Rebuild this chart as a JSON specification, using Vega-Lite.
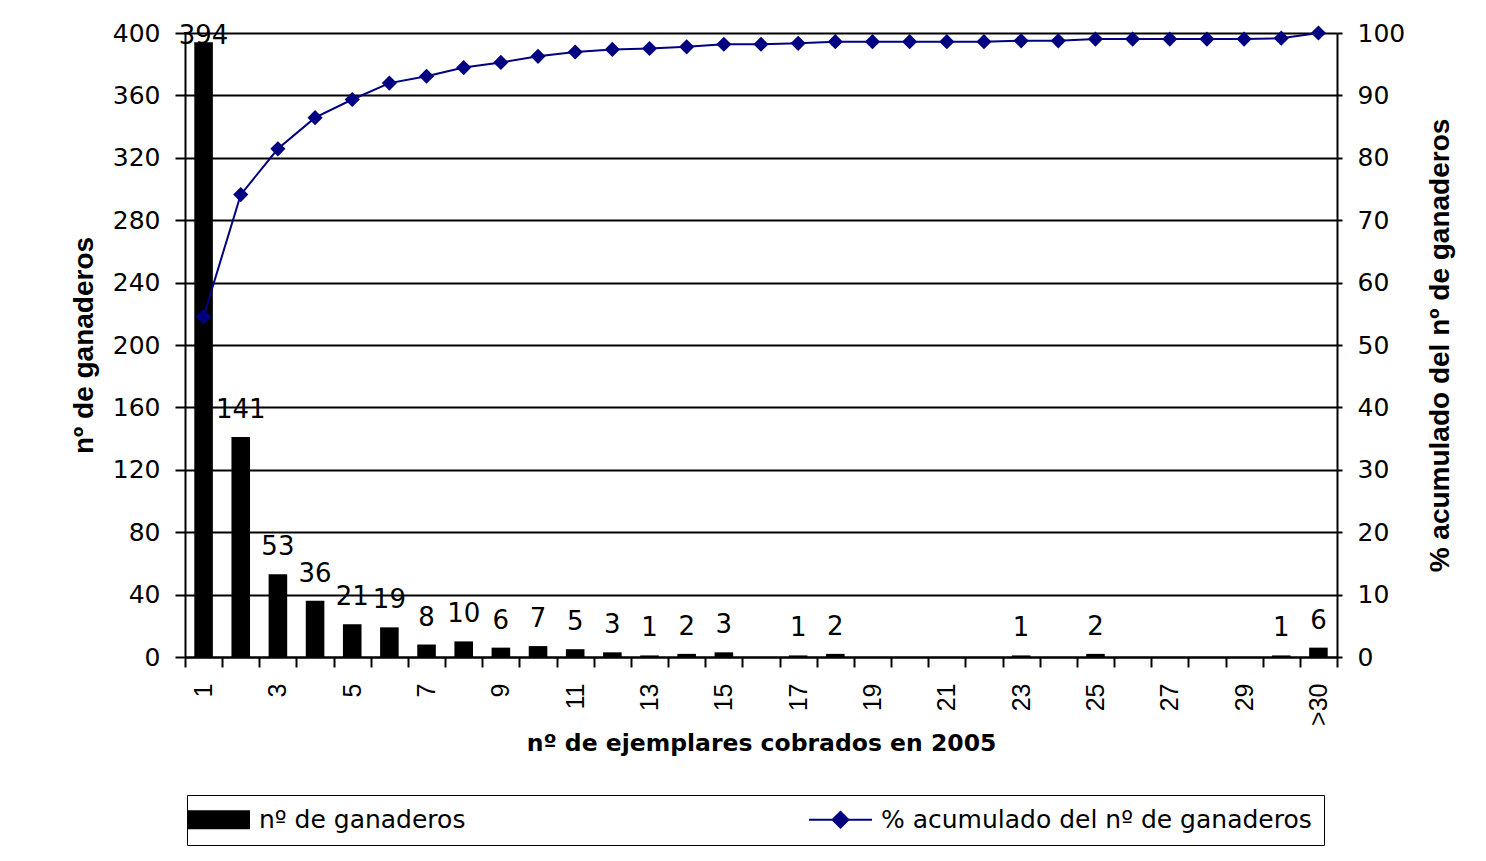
{
  "$schema": "https://vega.github.io/schema/vega-lite/v6.json",
  "width": 1152,
  "height": 624,
  "autosize": {"type": "none"},
  "padding": {"left": 185, "top": 33, "right": 149, "bottom": 204},
  "background": "white",
  "config": {
    "font": "DejaVu Sans",
    "view": {"stroke": null},
    "axis": {
      "labelColor": "black",
      "titleColor": "black",
      "domainColor": "black",
      "tickColor": "black",
      "domainWidth": 2,
      "tickWidth": 2,
      "labelFont": "DejaVu Sans",
      "titleFont": "Liberation Sans",
      "titleFontWeight": "bold"
    }
  },
  "data": {
    "values": [
      {"cat": "1", "n": 394, "pct": 54.57},
      {"cat": "2", "n": 141, "pct": 74.10},
      {"cat": "3", "n": 53, "pct": 81.44},
      {"cat": "4", "n": 36, "pct": 86.43},
      {"cat": "5", "n": 21, "pct": 89.34},
      {"cat": "6", "n": 19, "pct": 91.97},
      {"cat": "7", "n": 8, "pct": 93.07},
      {"cat": "8", "n": 10, "pct": 94.46},
      {"cat": "9", "n": 6, "pct": 95.29},
      {"cat": "10", "n": 7, "pct": 96.26},
      {"cat": "11", "n": 5, "pct": 96.95},
      {"cat": "12", "n": 3, "pct": 97.37},
      {"cat": "13", "n": 1, "pct": 97.51},
      {"cat": "14", "n": 2, "pct": 97.78},
      {"cat": "15", "n": 3, "pct": 98.20},
      {"cat": "16", "n": 0, "pct": 98.20},
      {"cat": "17", "n": 1, "pct": 98.34},
      {"cat": "18", "n": 2, "pct": 98.61},
      {"cat": "19", "n": 0, "pct": 98.61},
      {"cat": "20", "n": 0, "pct": 98.61},
      {"cat": "21", "n": 0, "pct": 98.61},
      {"cat": "22", "n": 0, "pct": 98.61},
      {"cat": "23", "n": 1, "pct": 98.75},
      {"cat": "24", "n": 0, "pct": 98.75},
      {"cat": "25", "n": 2, "pct": 99.03},
      {"cat": "26", "n": 0, "pct": 99.03},
      {"cat": "27", "n": 0, "pct": 99.03},
      {"cat": "28", "n": 0, "pct": 99.03},
      {"cat": "29", "n": 0, "pct": 99.03},
      {"cat": "30", "n": 1, "pct": 99.17},
      {"cat": ">30", "n": 6, "pct": 100}
    ]
  },
  "encoding": {
    "x": {
      "field": "cat",
      "type": "ordinal",
      "sort": null,
      "scale": {"paddingInner": 0, "paddingOuter": 0},
      "axis": {
        "title": "nº de ejemplares cobrados en 2005",
        "titleFont": "DejaVu Sans",
        "titleFontSize": 23.5,
        "titlePadding": 6,
        "labelFont": "Liberation Sans",
        "labelAngle": -90,
        "labelFontSize": 25,
        "labelPadding": 16,
        "tickSize": 10,
        "tickBand": "extent",
        "labelExpr": "datum.value == '>30' || toNumber(datum.value) % 2 == 1 ? datum.label : ''",
        "labelOverlap": false,
        "grid": false
      }
    }
  },
  "layer": [
    {
      "encoding": {
        "y": {
          "field": "n",
          "type": "quantitative",
          "scale": {"domain": [0, 400], "nice": false},
          "axis": {
            "title": "nº de ganaderos",
            "titleFontSize": 28,
            "titlePadding": 14,
            "values": [0, 40, 80, 120, 160, 200, 240, 280, 320, 360, 400],
            "labelFontSize": 25,
            "labelPadding": 15,
            "tickSize": 10,
            "grid": true,
            "gridColor": "black",
            "gridWidth": 2
          }
        }
      },
      "layer": [
        {
          "mark": {"type": "bar", "width": {"band": 0.5}},
          "encoding": {
            "color": {
              "datum": "nº de ganaderos",
              "type": "nominal",
              "scale": {"domain": ["nº de ganaderos", "% acumulado del nº de ganaderos"], "range": ["black", "#000080"]},
              "legend": {
                "title": null,
                "orient": "none",
                "legendX": 2,
                "legendY": 762,
                "direction": "horizontal",
                "columns": 2,
                "columnPadding": 339,
                "labelFont": "DejaVu Sans",
                "labelFontSize": 25,
                "labelColor": "black",
                "labelLimit": 1000,
                "labelOffset": 28,
                "symbolOffset": 7,
                "symbolSize": 3969,
                "padding": 12,
                "strokeColor": "black",
                "encode": {
                  "symbols": {
                    "update": {
                      "shape": {"signal": "datum.value == 'nº de ganaderos' ? 'M-1,-0.3H1V0.3H-1Z' : 'M-1,0H1M-0.25,0L0,-0.25L0.25,0L0,0.25Z'"},
                      "fill": {"signal": "datum.value == 'nº de ganaderos' ? 'black' : '#000080'"},
                      "stroke": {"signal": "datum.value == 'nº de ganaderos' ? 'black' : '#000080'"},
                      "strokeWidth": {"signal": "datum.value == 'nº de ganaderos' ? 0 : 2"},
                      "opacity": {"value": 1}
                    }
                  }
                }
              }
            }
          }
        },
        {
          "transform": [{"filter": "datum.n > 0 && datum.n < 380"}],
          "mark": {"type": "text", "baseline": "alphabetic", "fontSize": 26, "font": "DejaVu Sans", "color": "black", "dy": -19},
          "encoding": {
            "text": {"field": "n", "type": "quantitative"}
          }
        },
        {
          "transform": [{"filter": "datum.n >= 380"}],
          "mark": {"type": "text", "baseline": "alphabetic", "fontSize": 26, "font": "DejaVu Sans", "color": "black", "dy": 2},
          "encoding": {
            "text": {"field": "n", "type": "quantitative"}
          }
        }
      ]
    },
    {
      "encoding": {
        "y": {
          "field": "pct",
          "type": "quantitative",
          "scale": {"domain": [0, 100], "nice": false},
          "axis": {
            "orient": "right",
            "title": "% acumulado del nº de ganaderos",
            "titleFontSize": 28,
            "titleAngle": 270,
            "titlePadding": 50,
            "values": [0, 10, 20, 30, 40, 50, 60, 70, 80, 90, 100],
            "labelFontSize": 25,
            "labelPadding": 15,
            "tickSize": 5,
            "grid": false
          }
        },
        "color": {"datum": "% acumulado del nº de ganaderos", "type": "nominal"}
      },
      "layer": [
        {"mark": {"type": "line", "strokeWidth": 2}},
        {"mark": {"type": "point", "shape": "diamond", "filled": true, "size": 230, "opacity": 1}}
      ]
    }
  ],
  "resolve": {"scale": {"y": "independent"}}
}
